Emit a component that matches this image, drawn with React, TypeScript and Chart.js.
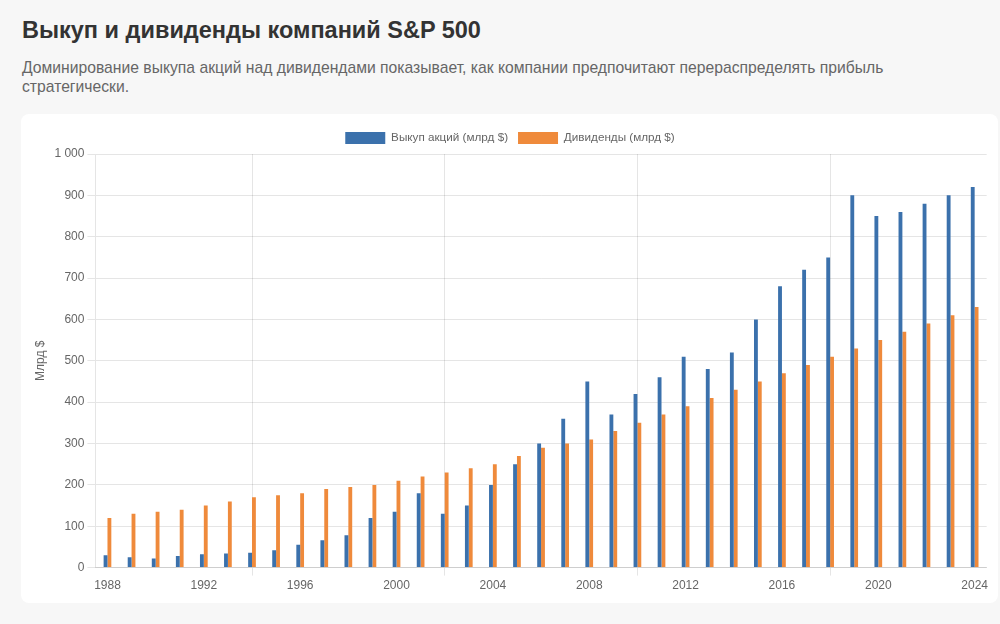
import React, { useEffect, useRef } from "react";
import { Chart, registerables } from "chart.js";

Chart.register(...registerables);

const years: string[] = [
  "1988", "1989", "1990", "1991", "1992", "1993", "1994", "1995", "1996", "1997",
  "1998", "1999", "2000", "2001", "2002", "2003", "2004", "2005", "2006", "2007",
  "2008", "2009", "2010", "2011", "2012", "2013", "2014", "2015", "2016", "2017",
  "2018", "2019", "2020", "2021", "2022", "2023", "2024",
];

const buybacks: number[] = [
  30, 25, 22, 28, 32, 34, 36, 42, 55, 66,
  78, 120, 135, 180, 130, 150, 200, 250, 300, 360,
  450, 370, 420, 460, 510, 480, 520, 600, 680, 720,
  750, 900, 850, 860, 880, 900, 920,
];

const dividends: number[] = [
  120, 130, 135, 140, 150, 160, 170, 175, 180, 190,
  195, 200, 210, 220, 230, 240, 250, 270, 290, 300,
  310, 330, 350, 370, 390, 410, 430, 450, 470, 490,
  510, 530, 550, 570, 590, 610, 630,
];

const gridYears: string[] = ["1994", "2002", "2010", "2018"];

const FONT = "'Liberation Sans', Arial, Helvetica, sans-serif";

export default function App() {
  const ref = useRef<HTMLCanvasElement | null>(null);

  useEffect(() => {
    if (!ref.current) return;
    const chart = new Chart(ref.current, {
      type: "bar",
      data: {
        labels: years,
        datasets: [
          {
            label: "Выкуп акций (млрд $)",
            data: buybacks,
            backgroundColor: "#3b71ac",
            borderColor: "#3b71ac",
            borderWidth: 0,
          },
          {
            label: "Дивиденды (млрд $)",
            data: dividends,
            backgroundColor: "#ef8a3b",
            borderColor: "#ef8a3b",
            borderWidth: 0,
          },
        ],
      },
      options: {
        animation: false,
        responsive: false,
        maintainAspectRatio: false,
        datasets: {
          bar: {
            categoryPercentage: 0.32,
            barPercentage: 1,
          },
        },
        layout: { padding: 0 },
        plugins: {
          legend: {
            position: "top",
            labels: {
              color: "#666",
              font: { family: FONT, size: 11.7 },
              boxWidth: 40,
              boxHeight: 12,
            },
          },
          tooltip: { enabled: false },
        },
        scales: {
          x: {
            grid: {
              offset: false,
              color: (ctx: any) => {
                const i = ctx.index;
                return gridYears.includes(years[i]) ? "rgba(0,0,0,0.1)" : "rgba(0,0,0,0)";
              },
            },
            ticks: {
              autoSkip: false,
              maxRotation: 0,
              color: "#666",
              font: { family: FONT, size: 12 },
              callback: (_v: any, i: number) => (i % 4 === 0 ? years[i] : ""),
            },
          },
          y: {
            min: 0,
            max: 1000,
            ticks: {
              stepSize: 100,
              color: "#666",
              font: { family: FONT, size: 12 },
              callback: (v: any) => Number(v).toLocaleString("ru-RU"),
            },
            grid: { color: "rgba(0,0,0,0.1)" },
            title: {
              display: true,
              text: "Млрд $",
              color: "#666",
              font: { family: FONT, size: 12 },
            },
          },
        },
      },
    });
    return () => chart.destroy();
  }, []);

  return (
    <div
      style={{
        position: "relative",
        width: 1000,
        height: 624,
        background: "#f7f7f7",
        fontFamily: FONT,
        overflow: "hidden",
      }}
    >
      <style>{"body{margin:0;background:#f7f7f7;}"}</style>
      <div
        style={{
          position: "absolute",
          left: 22,
          top: 14,
          fontSize: 23.5,
          fontWeight: 700,
          color: "#333",
          lineHeight: "32px",
          whiteSpace: "nowrap",
        }}
      >
        Выкуп и дивиденды компаний S&amp;P 500
      </div>
      <div
        style={{
          position: "absolute",
          left: 22,
          top: 58,
          width: 920,
          fontSize: 15.7,
          color: "#666",
          lineHeight: "19px",
        }}
      >
        Доминирование выкупа акций над дивидендами показывает, как компании предпочитают перераспределять прибыль стратегически.
      </div>
      <div
        style={{
          position: "absolute",
          left: 21,
          top: 114,
          width: 977,
          height: 489,
          background: "#fff",
          borderRadius: 8,
        }}
      >
        <canvas
          ref={ref}
          width={962}
          height={474}
          style={{ position: "absolute", left: 8, top: 8, width: 962, height: 474 }}
        />
      </div>
    </div>
  );
}
